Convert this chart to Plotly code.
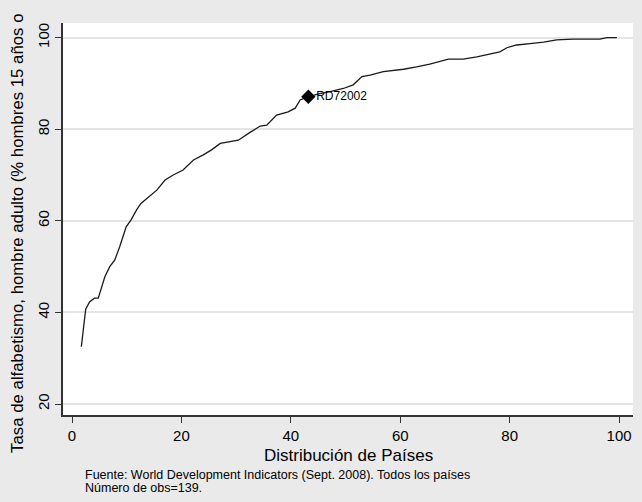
import plotly.graph_objects as go

# Distribución de países (percentil) vs tasa de alfabetismo masculina
pct = [1.7, 2.1, 2.5, 3.2, 4.1, 4.8, 5.4, 6.0, 6.9, 7.8, 8.7, 9.3, 9.9, 10.8,
       11.8, 12.6, 13.7, 15.5, 17.0, 18.5, 20.3, 22.2, 24.0, 25.5, 27.1, 28.9,
       30.4, 32.4, 34.4, 35.6, 37.4, 39.5, 40.8, 41.7, 43.2, 45.3, 47.2, 49.6,
       51.4, 53.0, 54.5, 56.9, 60.6, 63.0, 65.4, 68.8, 71.5, 74.0, 76.4, 78.2,
       79.5, 81.3, 83.7, 86.2, 88.6, 91.6, 96.5, 97.8, 99.6]
literacy = [32.5, 36.6, 40.7, 42.3, 43.1, 43.1, 45.6, 47.8, 50.0, 51.4, 54.3,
            56.5, 58.7, 60.2, 62.4, 63.8, 64.9, 66.7, 68.9, 70.0, 71.1, 73.3,
            74.4, 75.5, 76.9, 77.2, 77.6, 79.2, 80.7, 80.9, 83.1, 83.8, 84.6,
            86.4, 87.1, 87.8, 88.2, 88.9, 89.7, 91.5, 91.8, 92.6, 93.1, 93.6,
            94.2, 95.3, 95.3, 95.8, 96.5, 96.9, 97.8, 98.4, 98.7, 99.0, 99.5,
            99.7, 99.7, 100.0, 100.0]

# Punto destacado
highlight_x = [43.2]
highlight_y = [87.1]
highlight_label = ["RD72002"]

x_ticks = [0, 20, 40, 60, 80, 100]
y_ticks = [20, 40, 60, 80, 100]

FONT = "Liberation Sans, Arial, sans-serif"
BG = "#eaeaea"

fig = go.Figure()

fig.add_trace(go.Scatter(
    x=pct, y=literacy, mode="lines",
    line=dict(color="#1a1a1a", width=1.3),
    hoverinfo="skip", showlegend=False,
))

fig.add_trace(go.Scatter(
    x=highlight_x, y=highlight_y, mode="markers+text",
    marker=dict(symbol="diamond", size=11, color="black"),
    text=highlight_label, textposition="middle right",
    textfont=dict(family=FONT, size=12, color="black"),
    showlegend=False,
))

fig.update_layout(
    width=642, height=502,
    margin=dict(l=63, r=9, t=23, b=87),
    paper_bgcolor=BG,
    plot_bgcolor="white",
    font=dict(family=FONT, color="black"),
    xaxis=dict(
        range=[-1.65, 102.55],
        tickvals=x_ticks,
        ticks="outside", ticklen=6, tickcolor="#333333", tickwidth=1.2,
        showline=True, linecolor="#333333", linewidth=1.5,
        showgrid=False, zeroline=False,
        tickfont=dict(size=15),
    ),
    yaxis=dict(
        range=[17.6, 103.2],
        tickvals=y_ticks,
        tickangle=-90,
        ticks="outside", ticklen=6, tickcolor="#333333", tickwidth=1.2,
        showline=True, linecolor="#333333", linewidth=1.5,
        showgrid=True, gridcolor="#e4e4e4", gridwidth=1.5,
        zeroline=False,
        tickfont=dict(size=15),
    ),
)

# Títulos de ejes y notas
fig.add_annotation(
    text="Distribución de Países", xref="paper", yref="paper",
    x=0.5, y=-0.075, xanchor="center", yanchor="top", showarrow=False,
    font=dict(size=17),
)
fig.add_annotation(
    text="Tasa de alfabetismo, hombre adulto (% hombres 15 años o",
    xref="paper", yref="paper", x=-0.08, y=-0.102,
    xanchor="center", yanchor="bottom", textangle=-90, showarrow=False,
    font=dict(size=16.8),
)
notes = [
    "Fuente: World Development Indicators (Sept. 2008). Todos los países",
    "Número de obs=139.",
]
for i, note in enumerate(notes):
    fig.add_annotation(
        text=note, xref="paper", yref="paper",
        x=0.035, y=-0.153 - 0.033 * i,
        xanchor="left", yanchor="middle", align="left", showarrow=False,
        font=dict(size=12.5),
    )

# quitar el margen por defecto del <body> para que la figura ocupe la ventana
fig.write_html(
    "out.html",
    config={"displayModeBar": False},
    post_script="document.body.style.margin='0';"
                "document.body.style.background='%s';" % BG,
)
